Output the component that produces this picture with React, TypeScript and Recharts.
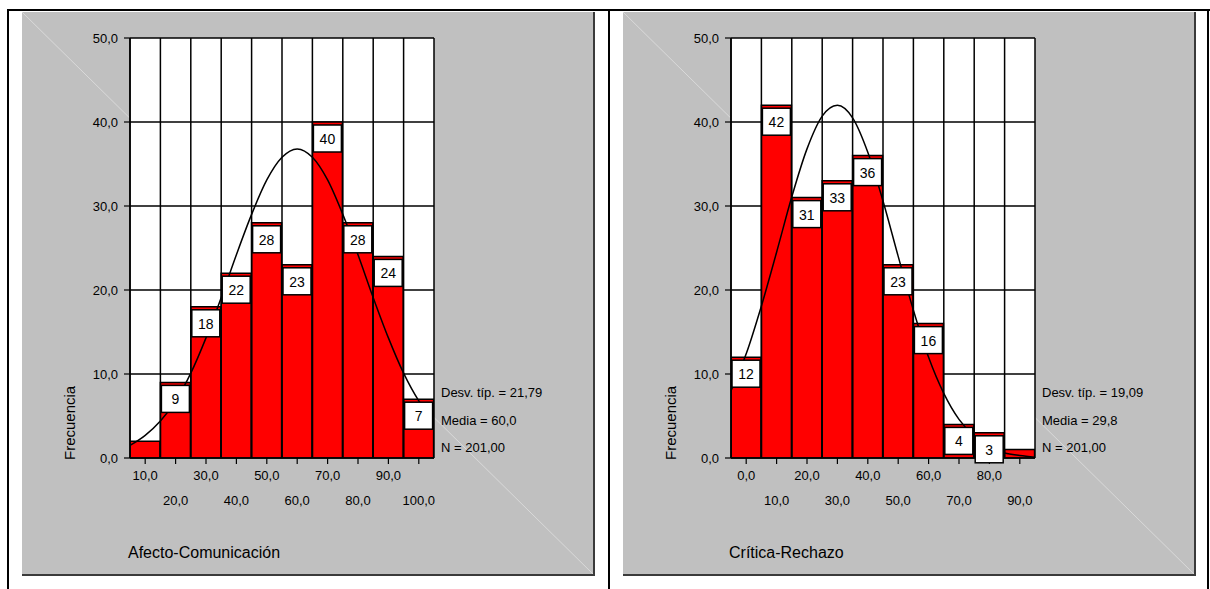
import React from 'react';
import { ComposedChart, Bar, Line, XAxis, YAxis, CartesianGrid, ReferenceLine, LabelList } from 'recharts';

// Afecto-Comunicación
const afectoCats = [10, 20, 30, 40, 50, 60, 70, 80, 90, 100];
const afectoFreq = [2, 9, 18, 22, 28, 23, 40, 28, 24, 7];
const afectoCurveX = [5, 10, 15, 20, 25, 30, 35, 40, 45, 50, 55, 60, 65, 70, 75, 80, 85, 90, 95, 100, 105];
const afectoCurveY = [1.5, 2.7, 4.4, 6.8, 10.1, 14.3, 19.1, 24.2, 29.0, 33.1, 35.8, 36.8, 35.8, 33.1, 29.0, 24.2, 19.1, 14.3, 10.1, 6.8, 4.4];
const afectoStats = ['Desv. típ. = 21,79', 'Media = 60,0', 'N = 201,00'];

// Crítica-Rechazo
const criticaCats = [0, 10, 20, 30, 40, 50, 60, 70, 80, 90];
const criticaFreq = [12, 42, 31, 33, 36, 23, 16, 4, 3, 1];
const criticaCurveX = [-5, 0, 5, 10, 15, 20, 25, 30, 35, 40, 45, 50, 55, 60, 65, 70, 75, 80, 85, 90, 95];
const criticaCurveY = [8.0, 12.4, 18.1, 24.5, 31.1, 36.8, 40.7, 42.0, 40.5, 36.4, 30.6, 24.0, 17.6, 12.0, 7.7, 4.6, 2.6, 1.3, 0.6, 0.3, 0.1];
const criticaStats = ['Desv. típ. = 19,09', 'Media = 29,8', 'N = 201,00'];

const yTicks = [0, 10, 20, 30, 40, 50];
const BIN = 10;

const PANEL_W = 571;
const PANEL_H = 562;
const FONT = "'Liberation Sans', Arial, Helvetica, sans-serif";

const fmt = (v: number) => v.toFixed(1).replace('.', ',');

function StaggerTick(props: any) {
  const { x, y, payload, index } = props;
  return (
    <text x={x} y={y + (index % 2) * 25} dy="0.71em" textAnchor="middle" fontSize={13} fill="#000" fontFamily={FONT}>
      {fmt(payload.value)}
    </text>
  );
}

function BoxLabel(props: any) {
  const { x, y, width, value } = props;
  if (value < 3) return null;
  return (
    <g>
      <rect x={x + 1} y={y + 3} width={width - 2} height={27} fill="#fff" stroke="#000" strokeWidth={1.5} />
      <text x={x + width / 2} y={y + 17} textAnchor="middle" dominantBaseline="central" fontSize={14} fill="#000" fontFamily={FONT}>
        {value}
      </text>
    </g>
  );
}

function Histogram({ left, cats, freq, curveX, curveY, title, stats }: {
  left: number; cats: number[]; freq: number[]; curveX: number[]; curveY: number[]; title: string; stats: string[];
}) {
  const bars = cats.map((c, i) => ({ x: c, freq: freq[i] }));
  const curve = curveX.map((x, i) => ({ x, y: curveY[i] }));
  const edges = [cats[0] - BIN / 2, ...cats.map((c) => c + BIN / 2)];
  const domain: [number, number] = [edges[0], edges[edges.length - 1]];

  return (
    <div style={{
      position: 'absolute', left, top: 12, width: PANEL_W, height: PANEL_H,
      background: '#c0c0c0', borderRight: '2px solid #3a3a3a', borderBottom: '2px solid #3a3a3a',
    }}>
      <svg width={PANEL_W} height={PANEL_H} style={{ position: 'absolute', left: 0, top: 0 }}>
        <line x1={0} y1={0} x2={PANEL_W} y2={PANEL_H} stroke="#d9d9d9" strokeWidth={1} />
        {stats.map((s, i) => (
          <text key={s} x={419} y={385 + i * 27.5} fontSize={13} fill="#000" fontFamily={FONT}>{s}</text>
        ))}
        <text x={106} y={546} fontSize={16} fill="#000" fontFamily={FONT}>{title}</text>
      </svg>
      <div style={{ position: 'absolute', left: 0, top: 0 }}>
        <ComposedChart
          width={PANEL_W}
          height={PANEL_H}
          data={bars}
          margin={{ top: 26, right: 159, bottom: 56, left: 48 }}
          barCategoryGap={0}
          barGap={0}
          style={{ fontFamily: FONT }}
        >
          <CartesianGrid vertical={false} stroke="#000" strokeWidth={1.5} fill="#fff" fillOpacity={1} strokeOpacity={1} />
          <XAxis
            dataKey="x"
            type="number"
            domain={domain}
            ticks={cats}
            interval={0}
            tick={<StaggerTick />}
            tickSize={6}
            tickMargin={7}
            axisLine={{ stroke: '#000', strokeWidth: 1.5 }}
            tickLine={{ stroke: '#000', strokeWidth: 1.2 }}
            height={60}
            allowDataOverflow
          />
          <XAxis xAxisId="curve" dataKey="x" type="number" domain={domain} hide allowDataOverflow />
          <YAxis
            type="number"
            domain={[0, 50]}
            ticks={yTicks}
            interval={0}
            width={60}
            tickSize={6}
            tickMargin={6}
            tickFormatter={fmt}
            tick={{ fontSize: 13, fill: '#000' }}
            axisLine={{ stroke: '#000', strokeWidth: 1.5 }}
            tickLine={{ stroke: '#000', strokeWidth: 1.2 }}
            allowDataOverflow
            label={{
              content: (p: any) => {
                const vb = p.viewBox;
                return (
                  <text
                    transform={`translate(${vb.x + 5},${vb.y + vb.height + 2}) rotate(-90)`}
                    fontSize={15}
                    fill="#000"
                    fontFamily={FONT}
                  >
                    Frecuencia
                  </text>
                );
              },
            }}
          />
          <Bar dataKey="freq" fill="#ff0000" stroke="#000" strokeWidth={1.5} isAnimationActive={false}>
            <LabelList dataKey="freq" content={<BoxLabel />} />
          </Bar>
          <Line xAxisId="curve" data={curve} dataKey="y" type="monotone" stroke="#000" strokeWidth={1.5} dot={false} isAnimationActive={false} />
          {edges.map((e) => (
            <ReferenceLine key={e} x={e} stroke="#000" strokeWidth={1.5} />
          ))}
        </ComposedChart>
      </div>
    </div>
  );
}

export default function App() {
  return (
    <div style={{ position: 'absolute', left: 0, top: 0, width: 1210, height: 589, background: '#fff', overflow: 'hidden' }}>
      <div style={{ position: 'absolute', left: 7, top: 9, width: 1203, height: 2, background: '#000' }} />
      <div style={{ position: 'absolute', left: 7, top: 9, width: 2, height: 580, background: '#000' }} />
      <div style={{ position: 'absolute', left: 608, top: 9, width: 2, height: 580, background: '#000' }} />
      <div style={{ position: 'absolute', left: 1207, top: 9, width: 2, height: 580, background: '#000' }} />
      <Histogram
        left={22}
        cats={afectoCats}
        freq={afectoFreq}
        curveX={afectoCurveX}
        curveY={afectoCurveY}
        title="Afecto-Comunicación"
        stats={afectoStats}
      />
      <Histogram
        left={623}
        cats={criticaCats}
        freq={criticaFreq}
        curveX={criticaCurveX}
        curveY={criticaCurveY}
        title="Crítica-Rechazo"
        stats={criticaStats}
      />
    </div>
  );
}
